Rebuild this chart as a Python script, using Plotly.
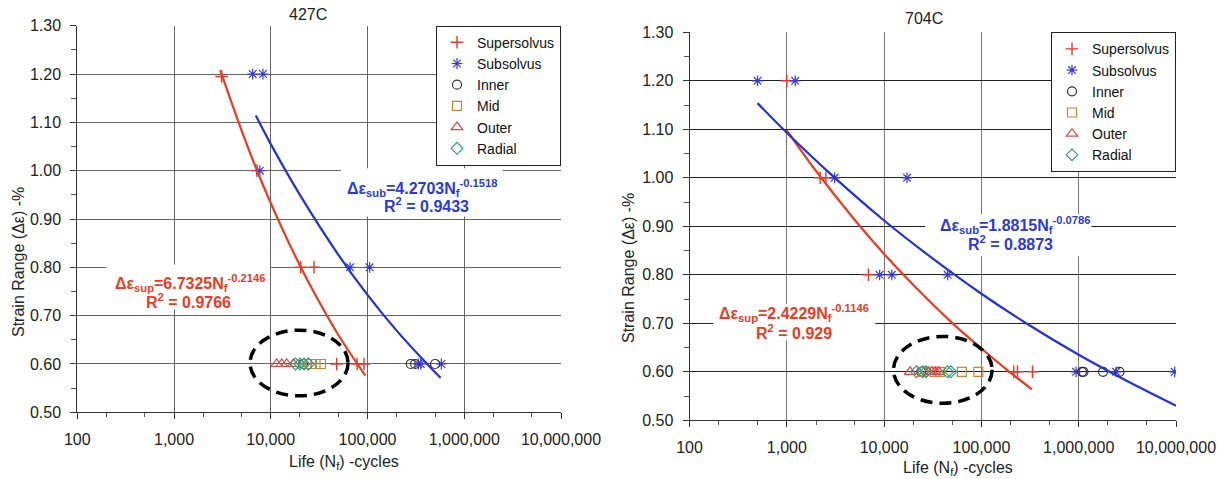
import plotly.graph_objects as go

W, H = 1226, 479

# ---------------- tick labels ----------------
x_tickvals = [100, 1000, 10000, 100000, 1000000, 10000000]
x_ticktext = ["100", "1,000", "10,000", "100,000", "1,000,000", "10,000,000"]

# ---------------- 427C data (life N_f, strain range %) ----------------
c427_sup_n = [3100, 7200, 20400, 28000, 48000, 78000, 92000]
c427_sup_e = [1.195, 1.00, 0.80, 0.80, 0.60, 0.60, 0.60]
c427_sub_n = [6500, 8300, 7700, 66000, 105000, 335000, 355000, 580000]
c427_sub_e = [1.20, 1.20, 1.00, 0.80, 0.80, 0.60, 0.60, 0.60]
c427_inner_n = [21500, 280000, 310000, 500000]
c427_inner_e = [0.60, 0.60, 0.60, 0.60]
c427_mid_n = [23500, 26000, 29000, 33000]
c427_mid_e = [0.60, 0.60, 0.60, 0.60]
c427_outer_n = [11500, 13000, 14600, 17100]
c427_outer_e = [0.60, 0.60, 0.60, 0.60]
c427_radial_n = [18000, 20000, 22000, 24500]
c427_radial_e = [0.60, 0.60, 0.60, 0.60]
# trend lines
c427_supfit_n = [3000, 5000, 7600, 13000, 20000, 30000, 50000, 95000]
c427_supfit_e = [1.208, 1.083, 0.989, 0.882, 0.804, 0.737, 0.660, 0.576]
c427_subfit_n = [7000, 10000, 20000, 50000, 100000, 200000, 400000, 570000]
c427_subfit_e = [1.114, 1.055, 0.950, 0.826, 0.743, 0.669, 0.603, 0.571]

# ---------------- 704C data ----------------
c704_sup_n = [1000, 2200, 2520, 6900, 215000, 235000, 335000]
c704_sup_e = [1.20, 1.00, 1.00, 0.80, 0.60, 0.60, 0.60]
c704_sub_n = [500, 1220, 3100, 17200, 9000, 12000, 45000, 940000, 2420000, 9700000]
c704_sub_e = [1.20, 1.20, 1.00, 1.00, 0.80, 0.80, 0.80, 0.60, 0.60, 0.60]
c704_inner_n = [24000, 1080000, 1120000, 1780000, 2630000]
c704_inner_e = [0.60, 0.60, 0.60, 0.60, 0.60]
c704_mid_n = [25000, 33000, 37500, 63000, 93000]
c704_mid_e = [0.60, 0.60, 0.60, 0.60, 0.60]
c704_outer_n = [18500, 28500, 31000, 33500, 36500]
c704_outer_e = [0.60, 0.60, 0.60, 0.60, 0.60]
c704_radial_n = [21500, 25000, 27000, 45000, 48500]
c704_radial_e = [0.60, 0.60, 0.60, 0.60, 0.60]
c704_supfit_n = [1000, 2000, 5000, 10000, 20000, 50000, 100000, 200000, 330000]
c704_supfit_e = [1.098, 1.014, 0.913, 0.843, 0.779, 0.701, 0.648, 0.598, 0.564]
c704_subfit_n = [500, 1000, 3000, 10000, 30000, 100000, 300000, 1000000, 3000000, 10000000]
c704_subfit_e = [1.154, 1.093, 1.003, 0.912, 0.837, 0.761, 0.698, 0.635, 0.583, 0.530]

# ---------------- styles ----------------
FONT = "Liberation Sans, Arial, sans-serif"
RED = "#e8352b"
RED_TXT = "#ee3a1e"
BLUE = "#3a3ad8"
BLUE_LINE = "#2230e0"
BLUE_TXT = "#2a3ad8"
BLACK = "#333333"
ORANGE = "#c8843a"
OUTER_RED = "#e04848"
GREEN = "#3a9a7a"


def px2x(px):
    return px / W


def py2y(py):
    return 1 - py / H


fig = go.Figure()


def add_panel(xa, ya, legend, d):
    common = dict(xaxis=xa, yaxis=ya, mode="markers", legend=legend)
    fig.add_trace(go.Scatter(x=d["sup_n"], y=d["sup_e"], name="Supersolvus",
                             marker=dict(symbol="cross-thin", size=9, color=RED,
                                         line=dict(color=RED, width=1.4)), **common))
    fig.add_trace(go.Scatter(x=d["sub_n"], y=d["sub_e"], name="Subsolvus",
                             marker=dict(symbol="asterisk", size=9, color=BLUE,
                                         line=dict(color=BLUE, width=1.2)), **common))
    fig.add_trace(go.Scatter(x=d["inner_n"], y=d["inner_e"], name="Inner",
                             marker=dict(symbol="circle-open", size=9, color=BLACK,
                                         line=dict(width=1.2)), **common))
    fig.add_trace(go.Scatter(x=d["mid_n"], y=d["mid_e"], name="Mid",
                             marker=dict(symbol="square-open", size=9, color=ORANGE,
                                         line=dict(width=1.2)), **common))
    fig.add_trace(go.Scatter(x=d["outer_n"], y=d["outer_e"], name="Outer",
                             marker=dict(symbol="triangle-up-open", size=10, color=OUTER_RED,
                                         line=dict(width=1.2)), **common))
    fig.add_trace(go.Scatter(x=d["radial_n"], y=d["radial_e"], name="Radial",
                             marker=dict(symbol="diamond-open", size=9, color=GREEN,
                                         line=dict(width=1.2)), **common))
    fig.add_trace(go.Scatter(x=d["supfit_n"], y=d["supfit_e"], xaxis=xa, yaxis=ya,
                             mode="lines", line=dict(color=RED_TXT, width=2.2, shape="spline"),
                             showlegend=False, hoverinfo="skip"))
    fig.add_trace(go.Scatter(x=d["subfit_n"], y=d["subfit_e"], xaxis=xa, yaxis=ya,
                             mode="lines", line=dict(color=BLUE_LINE, width=2.2, shape="spline"),
                             showlegend=False, hoverinfo="skip"))


add_panel("x", "y", "legend", dict(
    sup_n=c427_sup_n, sup_e=c427_sup_e, sub_n=c427_sub_n, sub_e=c427_sub_e,
    inner_n=c427_inner_n, inner_e=c427_inner_e, mid_n=c427_mid_n, mid_e=c427_mid_e,
    outer_n=c427_outer_n, outer_e=c427_outer_e, radial_n=c427_radial_n, radial_e=c427_radial_e,
    supfit_n=c427_supfit_n, supfit_e=c427_supfit_e, subfit_n=c427_subfit_n, subfit_e=c427_subfit_e))
add_panel("x2", "y2", "legend2", dict(
    sup_n=c704_sup_n, sup_e=c704_sup_e, sub_n=c704_sub_n, sub_e=c704_sub_e,
    inner_n=c704_inner_n, inner_e=c704_inner_e, mid_n=c704_mid_n, mid_e=c704_mid_e,
    outer_n=c704_outer_n, outer_e=c704_outer_e, radial_n=c704_radial_n, radial_e=c704_radial_e,
    supfit_n=c704_supfit_n, supfit_e=c704_supfit_e, subfit_n=c704_subfit_n, subfit_e=c704_subfit_e))


def xaxis_style(domain, anchor, gridcolor):
    return dict(type="log", range=[2, 7], domain=domain, anchor=anchor, automargin=False,
                tickvals=x_tickvals, ticktext=x_ticktext,
                showgrid=True, gridcolor=gridcolor, gridwidth=1,
                showline=True, linecolor="#333", linewidth=1,
                ticks="outside", ticklen=6, tickcolor="#333",
                minor=dict(ticks="outside", ticklen=4, tickcolor="#555", showgrid=False),
                tickfont=dict(family=FONT, size=16, color="#222"),
                ticklabelstandoff=6, zeroline=False)


def yaxis_style(domain, anchor, gridcolor):
    return dict(range=[0.5, 1.3], domain=domain, anchor=anchor, dtick=0.1, automargin=False,
                tickformat=".2f", showgrid=True, gridcolor=gridcolor, gridwidth=1,
                showline=True, linecolor="#333", linewidth=1,
                ticks="outside", ticklen=6, tickcolor="#333",
                minor=dict(ticks="outside", ticklen=5, dtick=0.05, tickcolor="#555", showgrid=False),
                tickfont=dict(family=FONT, size=16, color="#222"),
                ticklabelstandoff=6, zeroline=False)


fig.update_layout(
    width=W, height=H,
    margin=dict(l=0, r=0, t=0, b=0, autoexpand=False),
    paper_bgcolor="white", plot_bgcolor="white",
    font=dict(family=FONT, color="#222"),
    xaxis=xaxis_style([px2x(77.3), px2x(561)], "y", "#666"),
    yaxis=yaxis_style([py2y(412.3), py2y(25.7)], "x", "#666"),
    xaxis2=xaxis_style([px2x(689.5), px2x(1176)], "y2", "#777"),
    yaxis2=yaxis_style([py2y(420.3), py2y(32.3)], "x2", "#222"),
    legend=dict(x=px2x(561), xanchor="right", y=py2y(25.7), yanchor="top",
                bgcolor="white", bordercolor="#222", borderwidth=1,
                font=dict(family=FONT, size=14, color="#111"), tracegroupgap=0),
    legend2=dict(x=px2x(1176), xanchor="right", y=py2y(32.3), yanchor="top",
                 bgcolor="white", bordercolor="#222", borderwidth=1,
                 font=dict(family=FONT, size=14, color="#111"), tracegroupgap=0),
    showlegend=True,
)

# white label backgrounds (hide gridlines behind equations) and dashed ellipses
boxes = [
    ("x", "y", 53000, 2.5e6, 0.905, 1.005),
    ("x", "y", 200, 9800, 0.712, 0.806),
    ("x2", "y2", 26500, 1.35e6, 0.838, 0.925),
    ("x2", "y2", 175, 8100, 0.665, 0.74),
]
for xr, yr, x0, x1, y0, y1 in boxes:
    fig.add_shape(type="rect", xref=xr, yref=yr, x0=x0, x1=x1, y0=y0, y1=y1,
                  fillcolor="white", line=dict(width=0), layer="between")

ellipses = [
    ("x", "y", 6100, 63000, 0.534, 0.670),
    ("x2", "y2", 12500, 129000, 0.535, 0.673),
]
for xr, yr, x0, x1, y0, y1 in ellipses:
    fig.add_shape(type="circle", xref=xr, yref=yr, x0=x0, x1=x1, y0=y0, y1=y1,
                  line=dict(color="black", width=3.5, dash="12px,7px"), layer="above")

ann = []


def text(px, py, s, size=16, color="#222", angle=0):
    ann.append(dict(x=px2x(px), y=py2y(py), xref="paper", yref="paper", text=s,
                    showarrow=False, xanchor="center", yanchor="middle", textangle=angle,
                    font=dict(family=FONT, size=size, color=color)))


text(308, 15, "427C")
text(924, 18, "704C")
text(344, 462, "Life (N<sub>f</sub>) -cycles")
text(958, 468, "Life (N<sub>f</sub>) -cycles")
text(18, 262, "Strain Range (Δε) -%", angle=-90)
text(628, 268, "Strain Range (Δε) -%", angle=-90)

text(423, 188, "<b>Δε<sub>sub</sub>=4.2703N<sub>f</sub><sup>-0.1518</sup></b>", color=BLUE_TXT)
text(426, 205, "<b>R<sup>2</sup> = 0.9433</b>", color=BLUE_TXT)
text(190, 283, "<b>Δε<sub>sup</sub>=6.7325N<sub>f</sub><sup>-0.2146</sup></b>", color=RED_TXT)
text(188, 301, "<b>R<sup>2</sup> = 0.9766</b>", color=RED_TXT)
text(1015, 225, "<b>Δε<sub>sub</sub>=1.8815N<sub>f</sub><sup>-0.0786</sup></b>", color=BLUE_TXT)
text(1010, 243, "<b>R<sup>2</sup> = 0.8873</b>", color=BLUE_TXT)
text(794, 313, "<b>Δε<sub>sup</sub>=2.4229N<sub>f</sub><sup>-0.1146</sup></b>", color=RED_TXT)
text(794, 332, "<b>R<sup>2</sup> = 0.929</b>", color=RED_TXT)

fig.update_layout(annotations=ann)

fig.write_html("out.html")
